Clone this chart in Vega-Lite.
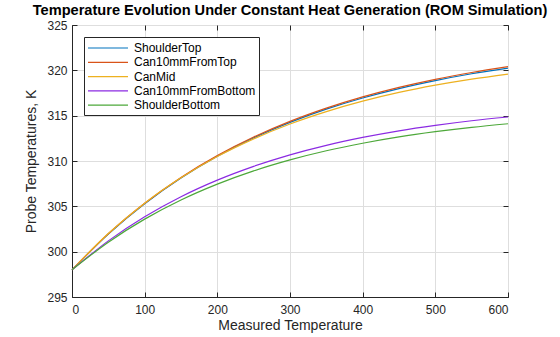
{
  "$schema": "https://vega.github.io/schema/vega-lite/v6.json",
  "width": 436,
  "height": 272,
  "autosize": {"type": "none"},
  "padding": {"left": 72, "top": 25, "right": 52, "bottom": 40},
  "background": "white",
  "title": {"text": "Temperature Evolution Under Constant Heat Generation (ROM Simulation)", "font": "Liberation Sans", "fontSize": 14.6, "fontWeight": "bold", "color": "black", "anchor": "middle", "offset": 6, "dy": 5},
  "config": {
    "view": {"stroke": "#262626", "strokeWidth": 1},
    "axis": {"labelFont": "Liberation Sans", "titleFont": "Liberation Sans", "labelFontSize": 12, "titleFontSize": 14, "titleFontWeight": "normal", "labelColor": "#262626", "titleColor": "#262626", "domainColor": "#262626", "tickColor": "#262626", "gridColor": "#dedede", "gridWidth": 1, "tickSize": -5}
  },
  "data": {"values": [
    {"t": 0, "temp": 298, "probe": "ShoulderTop"},
    {"t": 50, "temp": 301.95, "probe": "ShoulderTop"},
    {"t": 100, "temp": 305.29, "probe": "ShoulderTop"},
    {"t": 150, "temp": 308.12, "probe": "ShoulderTop"},
    {"t": 200, "temp": 310.52, "probe": "ShoulderTop"},
    {"t": 250, "temp": 312.55, "probe": "ShoulderTop"},
    {"t": 300, "temp": 314.26, "probe": "ShoulderTop"},
    {"t": 350, "temp": 315.72, "probe": "ShoulderTop"},
    {"t": 400, "temp": 316.95, "probe": "ShoulderTop"},
    {"t": 450, "temp": 317.99, "probe": "ShoulderTop"},
    {"t": 500, "temp": 318.87, "probe": "ShoulderTop"},
    {"t": 550, "temp": 319.62, "probe": "ShoulderTop"},
    {"t": 600, "temp": 320.25, "probe": "ShoulderTop"},
    {"t": 0, "temp": 298, "probe": "Can10mmFromTop"},
    {"t": 50, "temp": 301.98, "probe": "Can10mmFromTop"},
    {"t": 100, "temp": 305.34, "probe": "Can10mmFromTop"},
    {"t": 150, "temp": 308.19, "probe": "Can10mmFromTop"},
    {"t": 200, "temp": 310.6, "probe": "Can10mmFromTop"},
    {"t": 250, "temp": 312.64, "probe": "Can10mmFromTop"},
    {"t": 300, "temp": 314.37, "probe": "Can10mmFromTop"},
    {"t": 350, "temp": 315.83, "probe": "Can10mmFromTop"},
    {"t": 400, "temp": 317.07, "probe": "Can10mmFromTop"},
    {"t": 450, "temp": 318.12, "probe": "Can10mmFromTop"},
    {"t": 500, "temp": 319.01, "probe": "Can10mmFromTop"},
    {"t": 550, "temp": 319.76, "probe": "Can10mmFromTop"},
    {"t": 600, "temp": 320.4, "probe": "Can10mmFromTop"},
    {"t": 0, "temp": 298, "probe": "CanMid"},
    {"t": 50, "temp": 302.0, "probe": "CanMid"},
    {"t": 100, "temp": 305.35, "probe": "CanMid"},
    {"t": 150, "temp": 308.14, "probe": "CanMid"},
    {"t": 200, "temp": 310.49, "probe": "CanMid"},
    {"t": 250, "temp": 312.44, "probe": "CanMid"},
    {"t": 300, "temp": 314.08, "probe": "CanMid"},
    {"t": 350, "temp": 315.45, "probe": "CanMid"},
    {"t": 400, "temp": 316.6, "probe": "CanMid"},
    {"t": 450, "temp": 317.56, "probe": "CanMid"},
    {"t": 500, "temp": 318.36, "probe": "CanMid"},
    {"t": 550, "temp": 319.03, "probe": "CanMid"},
    {"t": 600, "temp": 319.59, "probe": "CanMid"},
    {"t": 0, "temp": 298, "probe": "Can10mmFromBottom"},
    {"t": 50, "temp": 301.19, "probe": "Can10mmFromBottom"},
    {"t": 100, "temp": 303.85, "probe": "Can10mmFromBottom"},
    {"t": 150, "temp": 306.06, "probe": "Can10mmFromBottom"},
    {"t": 200, "temp": 307.89, "probe": "Can10mmFromBottom"},
    {"t": 250, "temp": 309.41, "probe": "Can10mmFromBottom"},
    {"t": 300, "temp": 310.68, "probe": "Can10mmFromBottom"},
    {"t": 350, "temp": 311.73, "probe": "Can10mmFromBottom"},
    {"t": 400, "temp": 312.6, "probe": "Can10mmFromBottom"},
    {"t": 450, "temp": 313.33, "probe": "Can10mmFromBottom"},
    {"t": 500, "temp": 313.93, "probe": "Can10mmFromBottom"},
    {"t": 550, "temp": 314.44, "probe": "Can10mmFromBottom"},
    {"t": 600, "temp": 314.85, "probe": "Can10mmFromBottom"},
    {"t": 0, "temp": 298, "probe": "ShoulderBottom"},
    {"t": 50, "temp": 301.05, "probe": "ShoulderBottom"},
    {"t": 100, "temp": 303.59, "probe": "ShoulderBottom"},
    {"t": 150, "temp": 305.7, "probe": "ShoulderBottom"},
    {"t": 200, "temp": 307.45, "probe": "ShoulderBottom"},
    {"t": 250, "temp": 308.91, "probe": "ShoulderBottom"},
    {"t": 300, "temp": 310.12, "probe": "ShoulderBottom"},
    {"t": 350, "temp": 311.13, "probe": "ShoulderBottom"},
    {"t": 400, "temp": 311.96, "probe": "ShoulderBottom"},
    {"t": 450, "temp": 312.66, "probe": "ShoulderBottom"},
    {"t": 500, "temp": 313.23, "probe": "ShoulderBottom"},
    {"t": 550, "temp": 313.71, "probe": "ShoulderBottom"},
    {"t": 600, "temp": 314.11, "probe": "ShoulderBottom"}
  ]},
  "layer": [
    {
      "mark": {"type": "line", "strokeWidth": 1.2, "interpolate": "monotone"},
      "encoding": {
        "x": {"field": "t", "type": "quantitative", "scale": {"domain": [0, 600], "nice": false}, "axis": {"title": "Measured Temperature", "values": [0, 100, 200, 300, 400, 500, 600], "labelPadding": 12, "titlePadding": 3}},
        "y": {"field": "temp", "type": "quantitative", "scale": {"domain": [295, 325], "nice": false, "zero": false}, "axis": {"title": "Probe Temperatures, K", "values": [295, 300, 305, 310, 315, 320, 325], "labelPadding": 10, "titlePadding": 8}},
        "color": {"field": "probe", "type": "nominal", "sort": null,
          "scale": {"domain": ["ShoulderTop", "Can10mmFromTop", "CanMid", "Can10mmFromBottom", "ShoulderBottom"], "range": ["#0072BD", "#D95319", "#EDB120", "#8B2BE2", "#4DA83A"]},
          "legend": {"title": null, "orient": "none", "legendX": 12, "legendY": 12, "fillColor": "white", "strokeColor": "#262626", "padding": 3, "symbolType": "M-1,0H4.714", "symbolSize": 196, "symbolStrokeWidth": 1.2, "labelFont": "Liberation Sans", "labelFontSize": 12, "labelColor": "black", "rowPadding": 0.3, "labelOffset": 31}}
      }
    },
    {
      "mark": {"type": "line", "opacity": 0},
      "encoding": {
        "x": {"field": "t", "type": "quantitative", "axis": {"orient": "top", "title": null, "labels": false, "grid": false, "domain": false, "values": [0, 100, 200, 300, 400, 500, 600]}},
        "y": {"field": "temp", "type": "quantitative", "axis": {"orient": "right", "title": null, "labels": false, "grid": false, "domain": false, "values": [295, 300, 305, 310, 315, 320, 325]}},
        "detail": {"field": "probe"}
      }
    }
  ],
  "resolve": {"axis": {"x": "independent", "y": "independent"}}
}
